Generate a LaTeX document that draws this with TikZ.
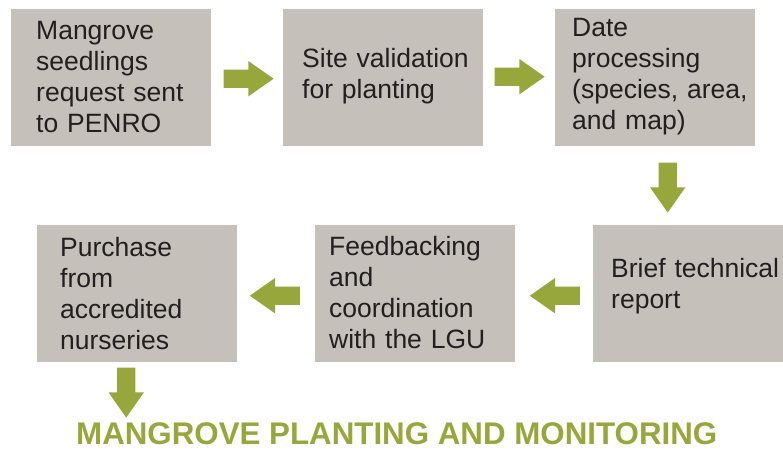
\documentclass[tikz,border=0pt]{standalone}
\usepackage{fontspec}
\setmainfont{Liberation Sans}
\usetikzlibrary{shapes.arrows,calc}
\definecolor{boxgray}{HTML}{C5C0BA}
\definecolor{leafgreen}{HTML}{98A73B}
\definecolor{inkgray}{HTML}{231F20}

\begin{document}
\begin{tikzpicture}[x=1pt,y=-1pt,
  stepbox/.style={fill=boxgray, draw=none, inner sep=0pt, anchor=north west, minimum height=137pt},
  steptext/.style={anchor=base west, inner sep=0pt, text width=200pt, align=left,
    text=inkgray, font=\fontsize{26.5pt}{31.3pt}\selectfont},
  flow/.style={single arrow, fill=leafgreen, draw=none, inner xsep=0pt, inner ysep=9pt,
    minimum height=50pt, minimum width=35pt, anchor=tail,
    single arrow head extend=8.5pt, single arrow tip angle=70},
]
\useasboundingbox (0,0) rectangle (783,450);

% process steps
\node[stepbox, minimum width=200pt] (b1) at (11,9) {};
\node[stepbox, minimum width=200pt] (b2) at (283,9) {};
\node[stepbox, minimum width=200pt] (b3) at (555,9) {};
\node[stepbox, minimum width=190pt] (b4) at (593,225) {};
\node[stepbox, minimum width=200pt] (b6) at (315,225) {};
\node[stepbox, minimum width=200pt] (b5) at (37,225) {};

\node[steptext] (t1) at (36,39) {Mangrove\\seedlings\\request sent\\to PENRO};
\node[steptext] (t2) at (302,67) {Site validation\\for planting};
\node[steptext] (t3) at (572,36) {Date\\processing\\(species, area,\\and map)};
\node[steptext, text width=172pt] (t4) at (611,277) {Brief technical\\report};
\node[steptext] (t6) at (329,255) {Feedbacking\\and\\coordination\\with the LGU};
\node[steptext] (t5) at (60,256) {Purchase\\from\\accredited\\nurseries};

% final outcome
\node[anchor=base west, inner sep=0pt, text=leafgreen,
  font=\bfseries\fontsize{31.3pt}{31.3pt}\selectfont] (title) at (76,444)
  {MANGROVE PLANTING AND MONITORING};

% block arrows between the steps, placed by their tails
\node[flow] (a12) at ($(b1.east)+(12,1)$) {};
\node[flow] (a23) at ($(b2.east)+(11,-1)$) {};
\node[flow, rotate=-90] (a34) at ($(b3.south)+(12.5,16)$) {};
\node[flow, rotate=180] (a46) at ($(b4.west)+(-13,2)$) {};
\node[flow, rotate=180] (a65) at ($(b6.west)+(-15,2)$) {};
\node[flow, rotate=-90] (a5t) at ($(b5.south)+(-11,5)$) {};
\end{tikzpicture}
\end{document}
